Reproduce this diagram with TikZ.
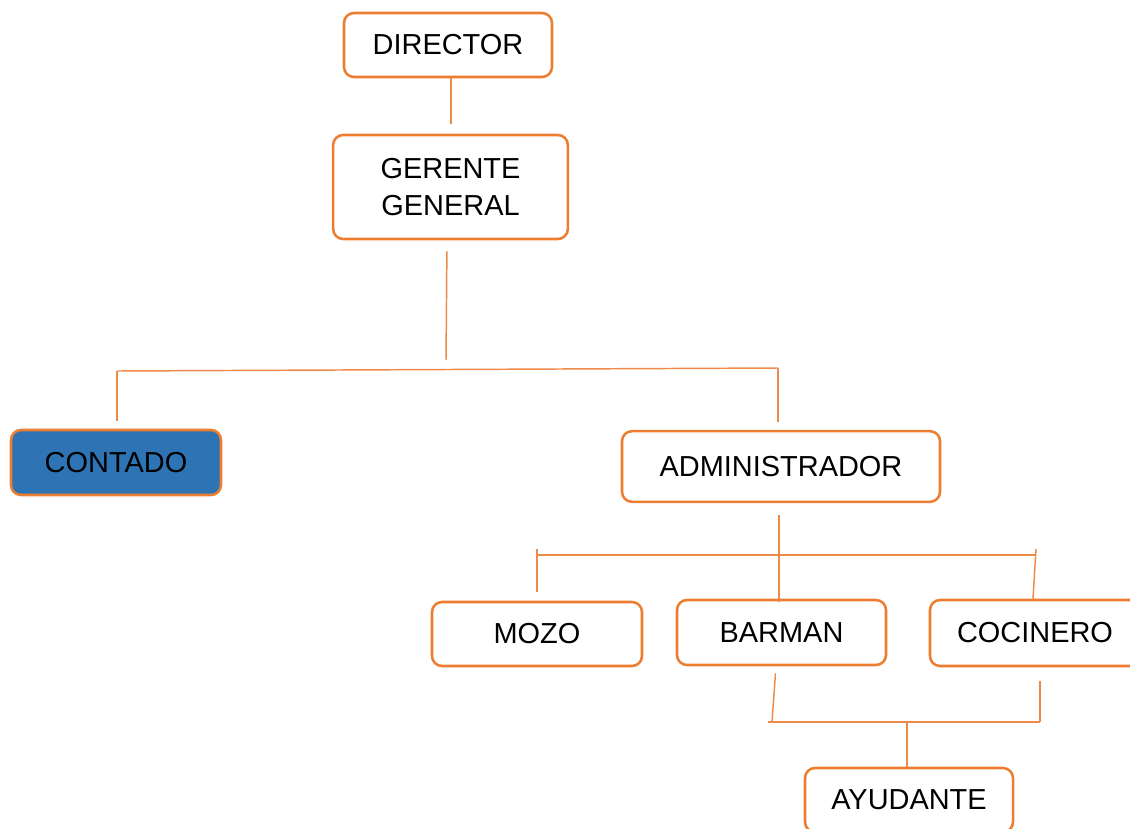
\documentclass[tikz,border=0pt]{standalone}
\usepackage{fontspec}
\setmainfont{Liberation Sans}
\usetikzlibrary{positioning,calc}
\definecolor{oBorder}{HTML}{ED7D31}
\definecolor{oLine}{HTML}{EE8A48}
\definecolor{cBlue}{HTML}{2E74B5}
\tikzset{
  unit/.style={draw=oBorder, line width=1.9pt, rounded corners=7.5pt, fill=white,
    font=\fontsize{21.7}{27.8}\selectfont, align=center, inner sep=0pt},
  link/.style={draw=oLine, line width=1.1pt},
}

\begin{document}
\begin{tikzpicture}[x=0.75pt, y=-0.75pt]
\useasboundingbox (0,0) rectangle (1130,828);
% boxes
\node[unit, minimum width=156pt, minimum height=48pt] (dir) at (448,45) {DIRECTOR};
\node[unit, minimum width=176pt, minimum height=78pt] (ger) at (450.5,187) {GERENTE\\GENERAL};
\node[unit, fill=cBlue, minimum width=157.5pt, minimum height=48.75pt] (cont) at (116,462.5) {CONTADO};
\node[unit, minimum width=238.5pt, minimum height=53pt] (adm) at (781,466.5) {ADMINISTRADOR};
\node[unit, minimum width=157.5pt, minimum height=48pt] (mozo) at (537,634) {MOZO};
\node[unit, minimum width=156.75pt, minimum height=48.75pt] (bar) at (781.5,632.5) {BARMAN};
\node[unit, minimum width=157.5pt, minimum height=49.5pt] (coc) at (1035,633) {COCINERO};
\node[unit, minimum width=156pt, minimum height=48pt] (ayu) at (909,800) {AYUDANTE};
% junctions
\coordinate (dStart) at (451,78);
\coordinate (gEnd) at (446,360);
\coordinate (barL) at (117,371);
\coordinate (barR) at (778,368);
\coordinate (aStart) at (779,515);
\coordinate (subL) at (538,555);
\coordinate (subR) at (1035,555);
\coordinate (mTop) at (537,549);
\coordinate (cTop) at (1036,549);
\coordinate (lowL) at (768,722);
\coordinate (lowR) at (1040,722);
\coordinate (bEnd) at (772,722);
\coordinate (lowM) at (907,722);
% connectors
\draw[link, shorten >=7.5pt] (dStart) -- (dStart |- ger.north);
\draw[link, shorten <=8.25pt] (ger.south) ++(-3.5,0) -- (gEnd);
\draw[link] (barL) -- (barR);
\draw[link, shorten >=6pt] (barL) -- (barL |- cont.north);
\draw[link, shorten >=6pt] (barR) -- (barR |- adm.north);
\draw[link, shorten >=-2.25pt] (aStart) -- (aStart |- bar.north);
\draw[link] (subL) -- (subR);
\draw[link, shorten >=6.75pt] (mTop) -- (mTop |- mozo.north);
\draw[link] (cTop) -- ($(coc.north)+(-2,0)$);
\draw[link, shorten <=5.25pt] (bar.south) ++(-5.5,0) -- (bEnd);
\draw[link, shorten <=10.5pt] (lowR |- coc.south) -- (lowR);
\draw[link] (lowL) -- (lowR);
\draw[link] (lowM) -- (lowM |- ayu.north);
\end{tikzpicture}
\end{document}
